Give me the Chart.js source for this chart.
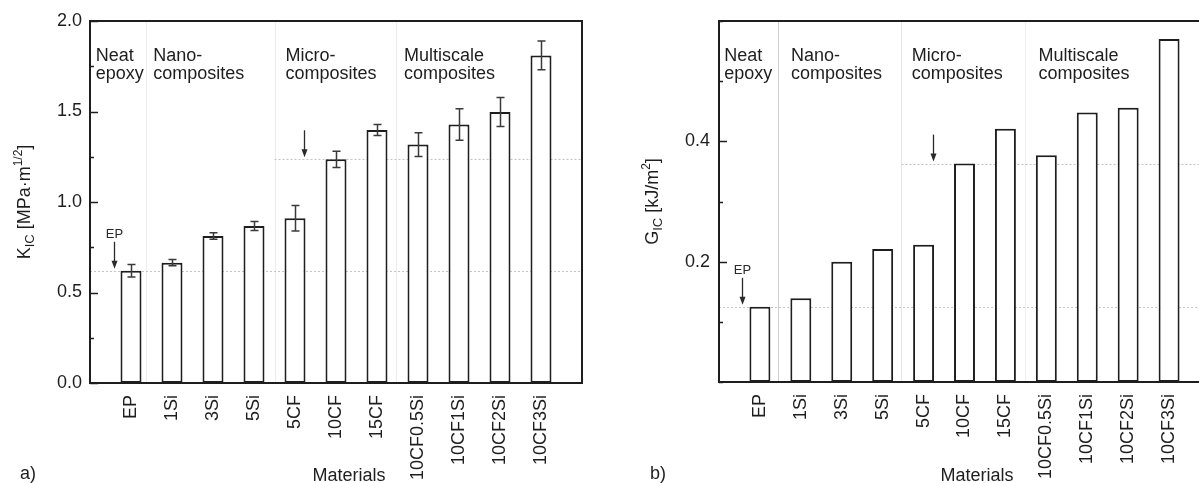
<!DOCTYPE html>
<html><head><meta charset="utf-8">
<script src="https://cdn.jsdelivr.net/npm/chart.js@4.4.1/dist/chart.umd.min.js"></script>
<style>
html,body{margin:0;padding:0;background:#fff;overflow:hidden;width:1199px;height:483px;}
#wrap{position:relative;width:1199px;height:483px;overflow:hidden;background:#fff;}
canvas{position:absolute;top:0;}
#c1{left:0;}
#c2{left:600px;}
</style></head><body>
<div id="wrap">
<canvas id="c1" width="600" height="483"></canvas>
<canvas id="c2" width="628" height="483"></canvas>
</div>
<script>
// ---- data ----
const materials = ['EP','1Si','3Si','5Si','5CF','10CF','15CF','10CF0.5Si','10CF1Si','10CF2Si','10CF3Si'];
const kicValues = [0.62,0.665,0.812,0.867,0.91,1.236,1.398,1.317,1.428,1.497,1.81];
const kicErrors = [0.035,0.017,0.018,0.025,0.07,0.045,0.03,0.066,0.087,0.08,0.08];
const gicValues = [0.125,0.139,0.200,0.221,0.228,0.363,0.421,0.377,0.448,0.456,0.570];
const kicTickLabels = [0.0,0.5,1.0,1.5,2.0];
const gicTickLabels = [0.2,0.4];
const groupNames = [['Neat','epoxy'],['Nano-','composites'],['Micro-','composites'],['Multiscale','composites']];
const xTitle = 'Materials';

const FONT = "'Liberation Sans', Arial, Helvetica, sans-serif";
const INK = '#1e1e1e';

function near(v, list){ return list.some(t => Math.abs(t - v) < 1e-6); }

function drawRich(ctx, parts, cx, cy){
  ctx.save();
  let w = 0;
  parts.forEach(p => { ctx.font = p.size + 'px ' + FONT; p.w = ctx.measureText(p.t).width; w += p.w; });
  ctx.translate(cx, cy);
  ctx.rotate(-Math.PI/2);
  ctx.fillStyle = INK;
  ctx.textBaseline = 'alphabetic';
  ctx.textAlign = 'left';
  let x = -w/2;
  parts.forEach(p => { ctx.font = p.size + 'px ' + FONT; ctx.fillText(p.t, x, 6 + (p.dy||0)); x += p.w; });
  ctx.restore();
}

function makeDeco(cfg){
  return {
    id: 'deco',
    beforeDatasetsDraw(chart){
      const {ctx, chartArea:a, scales:{x, y}} = chart;
      ctx.save();
      ctx.lineWidth = 1;
      cfg.seps.forEach((s, i) => {
        const px = Math.round(x.getPixelForValue(s)) + 0.5;
        ctx.strokeStyle = cfg.sepColors[i];
        ctx.beginPath(); ctx.moveTo(px, a.top); ctx.lineTo(px, a.bottom); ctx.stroke();
      });
      ctx.setLineDash([2, 2]);
      ctx.strokeStyle = '#c4c4c4';
      cfg.refs.forEach(r => {
        const py = Math.round(y.getPixelForValue(r.v)) + 0.5;
        const x0 = r.from == null ? a.left : x.getPixelForValue(r.from);
        ctx.beginPath(); ctx.moveTo(x0, py); ctx.lineTo(a.right, py); ctx.stroke();
      });
      ctx.restore();
    },
    afterDatasetsDraw(chart){
      const {ctx, chartArea:a, scales:{x, y}} = chart;
      ctx.save();
      // error bars
      if (cfg.errors){
        const meta = chart.getDatasetMeta(0);
        ctx.strokeStyle = '#3a3a3a'; ctx.lineWidth = 1.5;
        cfg.errors.forEach((e, i) => {
          const bar = meta.data[i + 1];
          const v = cfg.values[i];
          const bx = Math.round(bar.x) + 0.5;
          const yt = y.getPixelForValue(v + e), yb = y.getPixelForValue(v - e);
          ctx.beginPath();
          ctx.moveTo(bx, yt); ctx.lineTo(bx, yb);
          ctx.moveTo(bx - 4, yt); ctx.lineTo(bx + 4, yt);
          ctx.moveTo(bx - 4, yb); ctx.lineTo(bx + 4, yb);
          ctx.stroke();
        });
      }
      // frame
      ctx.strokeStyle = INK; ctx.lineWidth = 2;
      ctx.strokeRect(a.left, a.top, a.right - a.left, a.bottom - a.top);
      // inward ticks
      ctx.lineWidth = 1.5;
      y.ticks.forEach(t => {
        const py = Math.round(y.getPixelForValue(t.value)) + 0.5;
        const len = near(t.value, cfg.majorTicks) ? 8 : 4;
        ctx.beginPath(); ctx.moveTo(a.left, py); ctx.lineTo(a.left + len, py); ctx.stroke();
      });
      // arrows
      ctx.strokeStyle = '#2a2a2a'; ctx.fillStyle = '#2a2a2a'; ctx.lineWidth = 1.3;
      cfg.arrows.forEach(ar => {
        const px = Math.round(x.getPixelForValue(ar.x)) + 0.5;
        const tip = y.getPixelForValue(ar.v) - 2;
        const tail = tip - 27;
        ctx.beginPath(); ctx.moveTo(px, tail); ctx.lineTo(px, tip - 6); ctx.stroke();
        ctx.beginPath(); ctx.moveTo(px - 3, tip - 8); ctx.lineTo(px + 3, tip - 8); ctx.lineTo(px, tip); ctx.closePath(); ctx.fill();
        if (ar.label){
          ctx.font = '13px ' + FONT; ctx.textAlign = 'center'; ctx.textBaseline = 'alphabetic';
          ctx.fillText(ar.label, px, tail - 4);
        }
      });
      // group labels
      ctx.fillStyle = INK; ctx.font = '18px ' + FONT; ctx.textAlign = 'left'; ctx.textBaseline = 'alphabetic';
      groupNames.forEach((g, i) => {
        const px = x.getPixelForValue(cfg.groupX[i]);
        ctx.fillText(g[0], px, a.top + 40);
        ctx.fillText(g[1], px, a.top + 58);
      });
      ctx.restore();
    },
    afterDraw(chart){
      const {ctx, chartArea:a} = chart;
      drawRich(ctx, cfg.yTitle, cfg.yTitleX, (a.top + a.bottom) / 2);
      ctx.save();
      ctx.fillStyle = INK; ctx.font = '18px ' + FONT; ctx.textBaseline = 'alphabetic';
      ctx.textAlign = 'center';
      ctx.fillText(xTitle, cfg.xTitleX, 481);
      ctx.textAlign = 'left';
      ctx.fillText(cfg.panel, cfg.panelX, 479);
      ctx.restore();
    }
  };
}

function makeChart(id, values, yOpts, yWidth, xHeight, deco){
  const labels = [''].concat(materials, ['']);
  const data = [null].concat(values, [null]);
  return new Chart(document.getElementById(id), {
    type: 'bar',
    data: { labels, datasets: [{ data, backgroundColor: '#ffffff', borderColor: INK, borderWidth: 2,
      borderSkipped: false, categoryPercentage: 1, barPercentage: 0.512 }] },
    options: {
      responsive: false, animation: false, devicePixelRatio: 1,
      layout: { padding: { left: 0, right: 18, top: 21, bottom: 0 } },
      plugins: { legend: { display: false }, tooltip: { enabled: false } },
      scales: {
        x: { type: 'category', offset: false,
          grid: { display: false, drawTicks: false }, border: { display: false },
          ticks: { autoSkip: false, minRotation: 90, maxRotation: 90, padding: 12,
            color: INK, font: { family: FONT, size: 18 } },
          afterFit(s){ s.height = xHeight; s.paddingLeft = 0; s.paddingRight = 0; } },
        y: Object.assign({ grid: { display: false, drawTicks: false }, border: { display: false },
          afterFit(s){ s.width = yWidth; s.paddingTop = 0; s.paddingBottom = 0; } }, yOpts)
      }
    },
    plugins: [makeDeco(deco)]
  });
}

makeChart('c1', kicValues, {
  min: 0, max: 2,
  ticks: { stepSize: 0.25, padding: 8, color: INK, font: { family: FONT, size: 18 },
    callback: v => near(v, kicTickLabels) ? v.toFixed(1) : '' }
}, 90, 100, {
  values: kicValues, errors: kicErrors,
  seps: [1.36, 4.5, 7.46], sepColors: ['#ececec', '#ececec', '#ececec'],
  refs: [{ v: kicValues[0] }, { v: kicValues[5], from: 4.5 }],
  majorTicks: kicTickLabels,
  arrows: [{ x: 0.59, v: kicValues[0], label: 'EP' }, { x: 5.22, v: kicValues[5] }],
  groupX: [0.14, 1.54, 4.77, 7.66],
  yTitle: [{t:'K', size:18}, {t:'IC', size:13, dy:4}, {t:' [MPa\u00b7m', size:18}, {t:'1/2', size:12, dy:-8}, {t:']', size:18}],
  yTitleX: 24, xTitleX: 349, panel: 'a)', panelX: 20
});

makeChart('c2', gicValues, {
  min: 0, max: 0.6,
  ticks: { stepSize: 0.1, padding: 9, color: INK, font: { family: FONT, size: 18 },
    callback: v => near(v, gicTickLabels) ? v.toFixed(1) : '' }
}, 119, 101, {
  values: gicValues, errors: null,
  seps: [1.45, 4.46, 7.49], sepColors: ['#cfcfcf', '#e6e6e6', '#efefef'],
  refs: [{ v: gicValues[0] }, { v: gicValues[5], from: 4.46 }],
  majorTicks: gicTickLabels,
  arrows: [{ x: 0.57, v: gicValues[0], label: 'EP' }, { x: 5.24, v: gicValues[5] }],
  groupX: [0.13, 1.76, 4.71, 7.81],
  yTitle: [{t:'G', size:18}, {t:'IC', size:13, dy:4}, {t:' [kJ/m', size:18}, {t:'2', size:12, dy:-8}, {t:']', size:18}],
  yTitleX: 52, xTitleX: 377, panel: 'b)', panelX: 50
});
</script>
</body></html>
